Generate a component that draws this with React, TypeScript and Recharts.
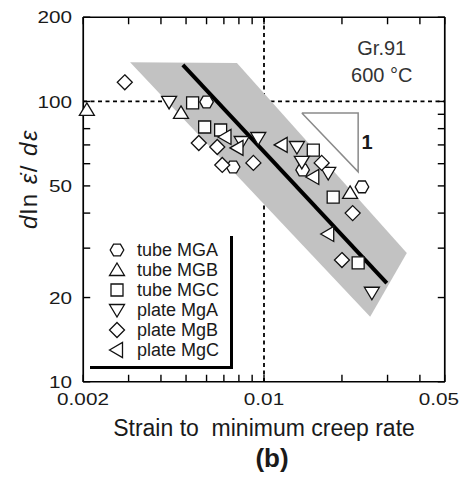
import React from 'react';
import { ScatterChart, Scatter, XAxis, YAxis, ReferenceLine, ReferenceDot, Legend } from 'recharts';

type Pt = { x: number; y: number };

// measured points (strain to min creep rate, dln(eps_dot)/d eps)
const tubeMGA: Pt[] = [
  { x: 0.006, y: 99.6 }, { x: 0.0076, y: 58.4 }, { x: 0.0141, y: 57 }, { x: 0.0239, y: 49.6 },
];
const tubeMGB: Pt[] = [
  { x: 0.00207, y: 93.3 }, { x: 0.00478, y: 91 }, { x: 0.0215, y: 47.2 },
];
const tubeMGC: Pt[] = [
  { x: 0.0053, y: 98.8 }, { x: 0.0059, y: 81.1 }, { x: 0.0068, y: 79.1 },
  { x: 0.0155, y: 67.1 }, { x: 0.0185, y: 45.6 }, { x: 0.0231, y: 26.6 },
];
const plateMgA: Pt[] = [
  { x: 0.0043, y: 99.6 }, { x: 0.0082, y: 71.7 }, { x: 0.0095, y: 74.1 }, { x: 0.0134, y: 68.8 },
  { x: 0.014, y: 60.9 }, { x: 0.0177, y: 55.6 }, { x: 0.0261, y: 20.8 },
];
const plateMgB: Pt[] = [
  { x: 0.0029, y: 117 }, { x: 0.0056, y: 71.1 }, { x: 0.0066, y: 68.8 }, { x: 0.0069, y: 59.4 },
  { x: 0.0091, y: 60.4 }, { x: 0.0167, y: 60.4 }, { x: 0.022, y: 40 }, { x: 0.02, y: 27.2 },
];
const plateMgC: Pt[] = [
  { x: 0.0071, y: 74.7 }, { x: 0.0079, y: 68.3 }, { x: 0.0117, y: 70 },
  { x: 0.0155, y: 53.8 }, { x: 0.0177, y: 33.7 },
];

// scatter band, fitted line and slope-1 triangle
const band: Pt[] = [
  { x: 0.00304, y: 138 }, { x: 0.00786, y: 137 }, { x: 0.0356, y: 28.8 }, { x: 0.0257, y: 17.1 },
];
const fitLine: Pt[] = [{ x: 0.00486, y: 135 }, { x: 0.0298, y: 22.5 }];
const slopeTriangle: Pt[] = [
  { x: 0.014, y: 91 }, { x: 0.0231, y: 91 }, { x: 0.0231, y: 56.1 }, { x: 0.014, y: 91 },
];

const xDomain = [0.002, 0.05];
const yDomain = [10, 200];
const xTicks = [0.002, 0.003, 0.004, 0.005, 0.006, 0.007, 0.008, 0.009, 0.01, 0.02, 0.03, 0.04, 0.05];
const yTicks = [10, 20, 30, 40, 50, 60, 70, 80, 90, 100, 200];
const xLabelTicks = [0.002, 0.01, 0.05];
const yLabelTicks = [10, 20, 50, 100, 200];

// reference marks exactly on the domain edge get discarded, so pull them in a hair (<0.3px)
const EDGE = 1.002;
const xLo = xDomain[0] * EDGE;
const xHi = xDomain[1] / EDGE;
const yLo = yDomain[0] * EDGE;
const yHi = yDomain[1] / EDGE;
const clampX = (v: number) => Math.min(Math.max(v, xLo), xHi);
const clampY = (v: number) => Math.min(Math.max(v, yLo), yHi);

const series = [
  { name: 'tube MGA', data: tubeMGA, kind: 'hexagon' },
  { name: 'tube MGB', data: tubeMGB, kind: 'triUp' },
  { name: 'tube MGC', data: tubeMGC, kind: 'square' },
  { name: 'plate MgA', data: plateMgA, kind: 'triDown' },
  { name: 'plate MgB', data: plateMgB, kind: 'diamond' },
  { name: 'plate MgC', data: plateMgC, kind: 'triLeft' },
];

const FONT = '"Liberation Sans", Arial, sans-serif';
const INK = '#1a1a1a';
const TICK = 7;

function drawMarker(kind: string, cx: number, cy: number) {
  const st = { fill: '#fff', stroke: '#111', strokeWidth: 1.3 };
  let pts: number[][] = [];
  if (kind === 'hexagon') {
    for (let i = 0; i < 6; i++) {
      const a = (i * Math.PI) / 3;
      pts.push([cx + 6.8 * Math.cos(a), cy + 6.8 * Math.sin(a)]);
    }
  } else if (kind === 'triUp') {
    pts = [[cx, cy - 7], [cx + 7.5, cy + 5.5], [cx - 7.5, cy + 5.5]];
  } else if (kind === 'square') {
    pts = [[cx - 6, cy - 6], [cx + 6, cy - 6], [cx + 6, cy + 6], [cx - 6, cy + 6]];
  } else if (kind === 'triDown') {
    pts = [[cx - 7.5, cy - 5.5], [cx + 7.5, cy - 5.5], [cx, cy + 7]];
  } else if (kind === 'diamond') {
    pts = [[cx, cy - 7.5], [cx + 7.5, cy], [cx, cy + 7.5], [cx - 7.5, cy]];
  } else {
    pts = [[cx - 7.5, cy], [cx + 5.5, cy - 7.5], [cx + 5.5, cy + 7.5]];
  }
  return <polygon points={pts.map(p => p.join(',')).join(' ')} {...st} />;
}

const hidden = () => <g />;

// inward tick mark drawn at a reference dot
const tickMark = (dx: number, dy: number) => (p: any) => (
  <path d={`M${p.cx},${p.cy}l${dx},${dy}`} stroke="#000" strokeWidth={1.4} fill="none" />
);
const tickUp = tickMark(0, -TICK);
const tickDown = tickMark(0, TICK);
const tickRight = tickMark(TICK, 0);
const tickLeft = tickMark(-TICK, 0);

// tick label renderers: x/y arrive on the axis line
const LeftTick = (props: any) => {
  const { x, y, payload } = props;
  if (!yLabelTicks.includes(payload.value)) return <g />;
  return (
    <g transform={`translate(${x - 11},${y}) scale(1.22,1)`}>
      <text x={0} y={0} dy="0.36em" textAnchor="end" fontSize={17} fill={INK} fontFamily={FONT}>
        {payload.value}
      </text>
    </g>
  );
};

const BottomTick = (props: any) => {
  const { x, y, payload } = props;
  if (!xLabelTicks.includes(payload.value)) return <g />;
  const last = payload.value === xLabelTicks[xLabelTicks.length - 1];
  return (
    <g transform={`translate(${last ? x + 14 : x},${y + 11}) scale(1.22,1)`}>
      <text x={0} y={0} dy="0.72em" textAnchor={last ? 'end' : 'middle'} fontSize={17} fill={INK} fontFamily={FONT}>
        {payload.value}
      </text>
    </g>
  );
};

const XTitle = (props: any) => {
  const vb = props.viewBox;
  const cx = vb.x + vb.width / 2;
  const base = vb.y + vb.height;
  return (
    <g fontFamily={FONT} fill={INK}>
      <text x={cx} y={base + 54} textAnchor="middle" fontSize={23} style={{ whiteSpace: 'pre' }}>
        Strain to  minimum creep rate
      </text>
      <text x={cx + 8} y={base + 85} textAnchor="middle" fontSize={26} fontWeight="bold">
        (b)
      </text>
    </g>
  );
};

const YTitle = (props: any) => {
  const vb = props.viewBox;
  const bx = vb.x - 46;
  const cy = 179;
  return (
    <text
      x={bx}
      y={cy}
      transform={`rotate(-90, ${bx}, ${cy})`}
      textAnchor="middle"
      fontSize={24}
      letterSpacing={1.5}
      fill={INK}
      fontFamily={FONT}
    >
      <tspan fontStyle="italic">d</tspan>ln <tspan fontStyle="italic">{'\u03b5\u0307'}</tspan>/ <tspan fontStyle="italic">d{'\u03b5'}</tspan>
    </text>
  );
};

const renderLegend = () => (
  <div
    style={{
      boxSizing: 'border-box',
      width: 143,
      height: 133,
      borderRight: '3px solid #000',
      borderBottom: '3px solid #000',
      paddingTop: 4,
      fontFamily: FONT,
    }}
  >
    {series.map(s => (
      <div key={s.name} style={{ display: 'flex', alignItems: 'center', height: 20 }}>
        <svg width={18} height={18} style={{ marginLeft: 18, display: 'block' }}>
          {drawMarker(s.kind, 9, 9)}
        </svg>
        <span style={{ marginLeft: 11, fontSize: 18, color: INK, lineHeight: '20px' }}>{s.name}</span>
      </div>
    ))}
  </div>
);

const axisCommon = {
  type: 'number' as const,
  scale: 'log' as const,
  allowDataOverflow: false,
  interval: 0 as const,
  mirror: true,
  tickSize: 0,
  tickMargin: 0,
  tickLine: false,
  axisLine: false,
};

export default function App() {
  return (
    <div style={{ position: 'absolute', left: 0, top: 0, width: 461, height: 477, background: '#fff' }}>
      <ScatterChart width={461} height={477} margin={{ top: 17, right: 16, left: 83, bottom: 95 }}>
        <XAxis
          {...axisCommon}
          orientation="bottom"
          dataKey="x"
          domain={xDomain}
          ticks={xTicks}
          height={1}
          tick={<BottomTick />}
          label={XTitle}
        />
        <YAxis
          {...axisCommon}
          orientation="left"
          dataKey="y"
          domain={yDomain}
          ticks={yTicks}
          width={1}
          tick={<LeftTick />}
          label={YTitle}
        />

        <Scatter
          name="band"
          data={band}
          legendType="none"
          isAnimationActive={false}
          shape={hidden}
          line={(p: any) => (
            <polygon points={p.points.map((q: any) => `${q.x},${q.y}`).join(' ')} fill="#c2c2c2" stroke="none" />
          )}
          lineType="joint"
        />

        <ReferenceLine x={0.01} stroke="#000" strokeWidth={1.8} strokeDasharray="4 3.5" />
        <ReferenceLine y={100} stroke="#000" strokeWidth={1.8} strokeDasharray="4 3.5" />

        {/* plot frame */}
        <ReferenceLine x={xLo} stroke="#000" strokeWidth={1.7} />
        <ReferenceLine x={xHi} stroke="#000" strokeWidth={1.7} />
        <ReferenceLine y={yLo} stroke="#000" strokeWidth={1.7} />
        <ReferenceLine y={yHi} stroke="#000" strokeWidth={1.7} />

        {/* inward tick marks on all four sides */}
        {xTicks.map(t => (
          <ReferenceDot key={`b${t}`} x={clampX(t)} y={yLo} r={3} shape={tickUp} />
        ))}
        {xTicks.map(t => (
          <ReferenceDot key={`t${t}`} x={clampX(t)} y={yHi} r={3} shape={tickDown} />
        ))}
        {yTicks.map(t => (
          <ReferenceDot key={`l${t}`} x={xLo} y={clampY(t)} r={3} shape={tickRight} />
        ))}
        {yTicks.map(t => (
          <ReferenceDot key={`r${t}`} x={xHi} y={clampY(t)} r={3} shape={tickLeft} />
        ))}

        <Scatter
          name="slope"
          data={slopeTriangle}
          legendType="none"
          isAnimationActive={false}
          shape={hidden}
          line={{ stroke: '#8a8a8a', strokeWidth: 1.5 }}
          lineType="joint"
        />

        <Scatter
          name="fit"
          data={fitLine}
          legendType="none"
          isAnimationActive={false}
          shape={hidden}
          line={{ stroke: '#000', strokeWidth: 4 }}
          lineType="joint"
        />

        {series.map(s => (
          <Scatter
            key={s.name}
            name={s.name}
            data={s.data}
            isAnimationActive={false}
            shape={(p: any) => drawMarker(s.kind, p.cx, p.cy)}
          />
        ))}

        <ReferenceDot x={0.0285} y={155} r={0} stroke="none"
          label={{ value: 'Gr.91', position: 'center', fontSize: 20, fill: '#333', fontFamily: FONT }} />
        <ReferenceDot x={0.0285} y={124} r={0} stroke="none"
          label={{ value: '600 °C', position: 'center', fontSize: 20, fill: '#333', fontFamily: FONT }} />
        <ReferenceDot x={0.025} y={72} r={0} stroke="none"
          label={{ value: '1', position: 'center', fontSize: 20, fontWeight: 'bold', fill: INK, fontFamily: FONT }} />

        <Legend
          layout="vertical"
          align="center"
          verticalAlign="middle"
          content={renderLegend}
          wrapperStyle={{ left: 90, top: 236, width: 143, height: 133 }}
        />
      </ScatterChart>
    </div>
  );
}
